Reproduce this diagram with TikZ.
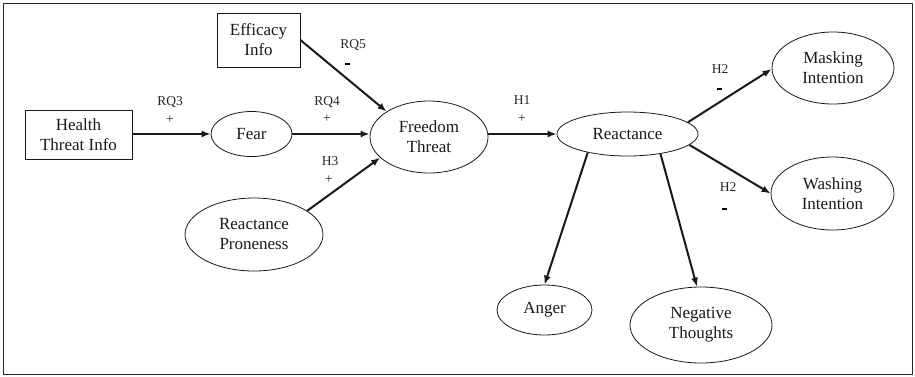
\documentclass[tikz,border=0pt]{standalone}
\usepackage{fontspec}
\setmainfont{Liberation Serif}
\usetikzlibrary{shapes.geometric,arrows.meta}
\begin{document}
\begin{tikzpicture}[x=1pt,y=-1pt,
  txt/.style={font=\fontsize{17}{20}\selectfont, text=black!90, align=center},
  boxnode/.style={txt, draw=black!90, line width=0.8pt, inner sep=0pt},
  ell/.style={txt, ellipse, draw=black!90, line width=0.8pt, inner sep=0pt},
  lab/.style={font=\fontsize{13.5}{15}\selectfont, text=black!85, inner sep=0pt},
  minus/.style={fill=black, draw=none, minimum width=5pt, minimum height=2pt, inner sep=0pt},
  arr/.style={line width=2pt, draw=black!90, -{Latex[length=9pt,width=7pt]}}]
\useasboundingbox (0,0) rectangle (915,376);
\draw[line width=1pt, black!85] (3,3) rectangle (912,374);

\node[boxnode, minimum width=107pt, minimum height=49pt] (hti) at (78.5,134.5) {Health\\Threat Info};
\node[boxnode, minimum width=83pt, minimum height=54pt] (eff) at (258.5,40) {Efficacy\\Info};
\node[ell, minimum width=81pt, minimum height=45pt] (fear) at (251.5,134) {Fear};
\node[ell, minimum width=118pt, minimum height=72pt] (ft) at (429,137) {Freedom\\Threat};
\node[ell, minimum width=138pt, minimum height=73pt] (rp) at (254,234.5) {Reactance\\Proneness};
\node[ell, minimum width=141pt, minimum height=44pt] (re) at (627.5,134) {Reactance};
\node[ell, minimum width=122pt, minimum height=72pt] (mi) at (833,68) {Masking\\Intention};
\node[ell, minimum width=123pt, minimum height=73pt] (wi) at (832.5,193.5) {Washing\\Intention};
\node[ell, minimum width=95pt, minimum height=50pt] (ang) at (544.5,310) {Anger};
\node[ell, minimum width=142pt, minimum height=76pt] (nt) at (701,325) {Negative\\Thoughts};

\draw[arr] (hti.east |- fear.west) -- (fear.west);
\draw[arr] (fear.east) -- (ft.west |- fear.east);
\draw[arr] (eff.east) -- (ft.149);
\draw[arr] (rp.24) -- (ft.203);
\draw[arr] (ft.east |- re.west) -- (re.west);
\draw[arr] (re.11) -- (mi.181);
\draw[arr] (re.-10) -- (wi.180);
\draw[arr] (re.205) -- (ang.north);
\draw[arr] (re.-31) -- (nt.96);

\node[lab] (l1) at (170,102) {RQ3};
\node[lab] (l1s) at (170,120) {+};
\node[lab] (l2) at (353,45) {RQ5};
\node[minus] (l2s) at (347,64) {};
\node[lab] (l3) at (327,102) {RQ4};
\node[lab] (l3s) at (327,119) {+};
\node[lab] (l4) at (330,161) {H3};
\node[lab] (l4s) at (329,180) {+};
\node[lab] (l5) at (522,100) {H1};
\node[lab] (l5s) at (522,119) {+};
\node[lab] (l6) at (720,69) {H2};
\node[minus] (l6s) at (719,89) {};
\node[lab] (l7) at (728,187) {H2};
\node[minus] (l7s) at (724,209) {};
\end{tikzpicture}
\end{document}
